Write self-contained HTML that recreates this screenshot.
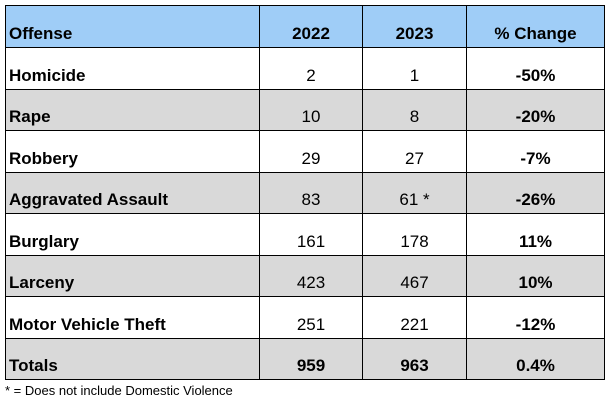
<!DOCTYPE html>
<html><head><style>
body{margin:0;width:609px;height:402px;background:#fff;font-family:"Liberation Sans",sans-serif;position:relative;overflow:hidden}
table{position:absolute;left:5px;top:5px;border-collapse:collapse;table-layout:fixed}
td{border:1.5px solid #000;height:41.5px;padding:0 3px 3px;vertical-align:bottom;font-size:17px;line-height:20px;box-sizing:border-box}
tr.h td{background:#9fcdf7;font-weight:bold;height:42px}
tr.g td{background:#d9d9d9}
td.c{text-align:center}
td.l{font-weight:bold}
td.b{font-weight:bold;text-align:center}
.fn{position:absolute;left:5px;top:383px;font-size:13px;color:#000}
</style></head><body>
<table>
<colgroup><col style="width:254px"><col style="width:103px"><col style="width:104px"><col style="width:138px"></colgroup>
<tr class="h"><td>Offense</td><td class="c">2022</td><td class="c">2023</td><td class="c">% Change</td></tr>
<tr><td class="l">Homicide</td><td class="c">2</td><td class="c">1</td><td class="b">-50%</td></tr>
<tr class="g"><td class="l">Rape</td><td class="c">10</td><td class="c">8</td><td class="b">-20%</td></tr>
<tr><td class="l">Robbery</td><td class="c">29</td><td class="c">27</td><td class="b">-7%</td></tr>
<tr class="g"><td class="l">Aggravated Assault</td><td class="c">83</td><td class="c">61 *</td><td class="b">-26%</td></tr>
<tr><td class="l">Burglary</td><td class="c">161</td><td class="c">178</td><td class="b">11%</td></tr>
<tr class="g"><td class="l">Larceny</td><td class="c">423</td><td class="c">467</td><td class="b">10%</td></tr>
<tr><td class="l">Motor Vehicle Theft</td><td class="c">251</td><td class="c">221</td><td class="b">-12%</td></tr>
<tr class="g"><td class="l">Totals</td><td class="b">959</td><td class="b">963</td><td class="b">0.4%</td></tr>
</table>
<div class="fn">* = Does not include Domestic Violence</div>
</body></html>
